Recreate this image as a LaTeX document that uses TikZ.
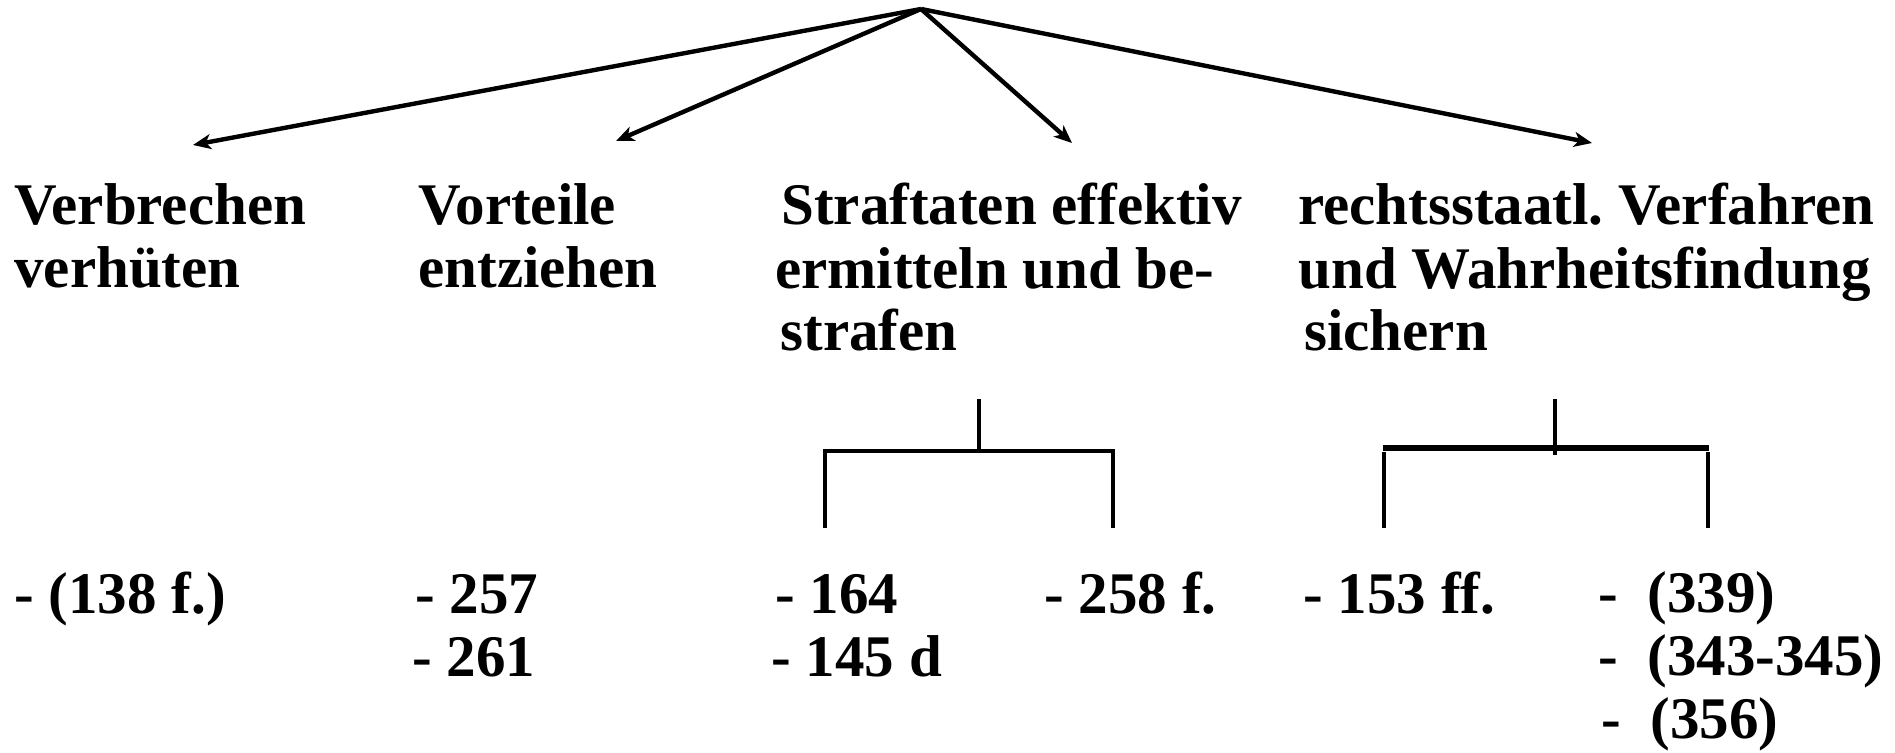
\documentclass[tikz,border=0pt]{standalone}
\usepackage{fontspec}
\setmainfont{Liberation Serif}
\usetikzlibrary{arrows.meta,positioning}
\frenchspacing

\begin{document}
\begin{tikzpicture}[x=0.5pt,y=-0.5pt,
  lbl/.style={anchor=base west, inner sep=0pt, align=left,
    font=\fontsize{29.5}{31.5}\selectfont\bfseries},
  arr/.style={-{Stealth[length=9pt,width=7.5pt,inset=2.5pt]}, line width=2.2pt},
  brk/.style={line width=2.2pt},
  bar/.style={line width=2.8pt}]
  \useasboundingbox (0,0) rectangle (1895,753);

  \coordinate (top) at (921,9);
  \coordinate (tipA) at (193,145);
  \coordinate (tipB) at (616,141);
  \coordinate (tipC) at (1072,143);
  \coordinate (tipD) at (1592,143);

  \draw[arr] (top) -- (tipA);
  \draw[arr] (top) -- (tipB);
  \draw[arr] (top) -- (tipC);
  \draw[arr] (top) -- (tipD);

  % base of a node = base of its last line
  \node[lbl] (verb) at (14,288) {Verbrechen\\verhüten};
  \node[lbl] (vort) at (418,288) {Vorteile\\entziehen};
  \node[lbl] (straf) at (775,351) {\hspace*{3pt}Straftaten effektiv\\ermitteln und be-\\\hspace*{2.5pt}strafen};
  \node[lbl] (recht) at (1298,351) {rechtsstaatl. Verfahren\\und Wahrheitsfindung\\\hspace*{3pt}sichern};

  % bracket under Straftaten
  \coordinate (s1) at (979,399);
  \coordinate (j1) at (979,451);
  \coordinate (l1) at (825,528);
  \coordinate (r1) at (1113,528);
  \draw[brk] (s1) -- (j1);
  \draw[brk, line join=miter] (l1) |- (j1) -| (r1);

  % bracket under rechtsstaatl.
  \coordinate (s2) at (1555,399);
  \coordinate (j2) at (1555,455);
  \coordinate (bl2) at (1383,448);
  \coordinate (br2) at (1709,448);
  \coordinate (la2) at (1384,452);
  \coordinate (lb2) at (1384,528);
  \coordinate (ra2) at (1708,452);
  \coordinate (rb2) at (1708,528);
  \draw[bar] (bl2) -- (br2);
  \draw[brk] (s2) -- (j2);
  \draw[brk] (la2) -- (lb2);
  \draw[brk] (ra2) -- (rb2);

  \node[lbl] (n138) at (14,613) {- (138 f.)};
  \node[lbl] (n257) at (415,676) {- 257\\\hspace*{-1.5pt}- 261};
  \node[lbl] (n164) at (775,676) {- 164\\\hspace*{-2pt}- 145 d};
  \node[lbl] (n258) at (1044,613) {- 258 f.};
  \node[lbl] (n153) at (1303,613) {- 153 ff.};
  \node[lbl] (n339) at (1598,738) {-~~(339)\\-~~(343-345)\\\hspace*{1.5pt}-~~(356)};
\end{tikzpicture}
\end{document}
